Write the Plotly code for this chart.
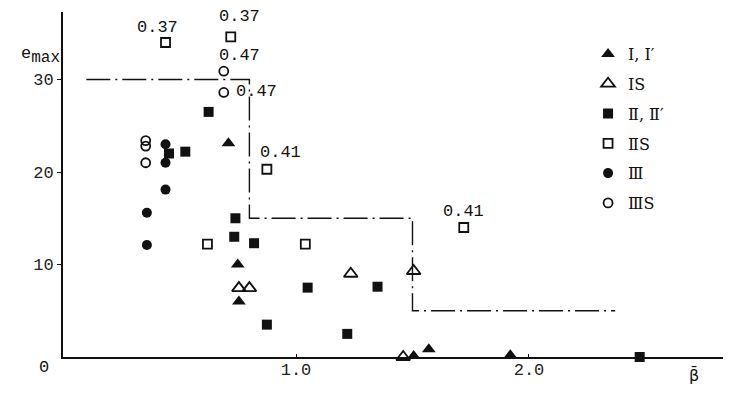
import plotly.graph_objects as go

# ---- data ----
beta_I = [0.71, 0.75, 0.755, 1.505, 1.57, 1.92]
e_I = [23.1, 10.0, 6.0, 0.1, 0.85, 0.2]

beta_IS = [0.755, 0.80, 1.235, 1.505, 1.46]
e_IS = [7.45, 7.45, 9.0, 9.3, 0.0]

beta_II = [0.625, 0.455, 0.525, 0.74, 0.735, 0.82, 0.875, 1.05, 1.35, 1.22, 2.475]
e_II = [26.5, 22.0, 22.2, 15.0, 13.0, 12.3, 3.5, 7.5, 7.6, 2.5, 0.0]

beta_IIS = [0.44, 0.72, 0.875, 0.62, 1.04, 1.72]
e_IIS = [34.0, 34.6, 20.3, 12.2, 12.2, 14.0]

beta_III = [0.44, 0.44, 0.44, 0.36, 0.36]
e_III = [23.0, 21.0, 18.1, 15.6, 12.1]

beta_IIIS = [0.355, 0.355, 0.355, 0.69, 0.69]
e_IIIS = [23.4, 22.8, 21.0, 30.9, 28.6]

bound_beta = [0.10, 0.80, 0.80, 1.50, 1.50, 2.37]
bound_e = [30, 30, 15, 15, 5, 5]

IIS_label_idx = [0, 1, 2, 5]
IIS_labels = ["0.37", "0.37", "0.41", "0.41"]
IIIS_label_idx = [3, 4]
IIIS_labels = ["0.47", "0.47"]

y_ticks = [10, 20, 30]
x_ticks = [1.0, 2.0]
x_ticktext = ["1.0", "2.0"]

names = ["Ⅰ, Ⅰ′", "ⅠS", "Ⅱ, Ⅱ′", "ⅡS", "Ⅲ", "ⅢS"]

MONO = "Liberation Mono, monospace"
LEG = "DejaVu Serif, Liberation Serif, serif"
BLACK = "#111111"

fig = go.Figure()

fig.add_trace(go.Scatter(
    x=bound_beta, y=bound_e, mode="lines", showlegend=False, hoverinfo="skip",
    line=dict(color=BLACK, width=1.4, dash="24px,5px,2px,5px")))

series = [
    (beta_I, e_I, "triangle-up", 12, None),
    (beta_IS, e_IS, "triangle-up-open", 12, 1.8),
    (beta_II, e_II, "square", 10, None),
    (beta_IIS, e_IIS, "square-open", 9, 1.8),
    (beta_III, e_III, "circle", 10, None),
    (beta_IIIS, e_IIIS, "circle-open", 9, 1.8),
]
for i, (bx, ey, sym, sz, lw) in enumerate(series):
    marker = dict(symbol=sym, size=sz, color=BLACK)
    if lw:
        marker["line"] = dict(color=BLACK, width=lw)
    fig.add_trace(go.Scatter(x=bx, y=ey, mode="markers", name=names[i],
                             legendgroup=f"g{i}", marker=marker, cliponaxis=False))

# ratio labels next to points
iis_shift = [(-8, 15), (9, 20), (14, 17), (0, 16)]
for k, idx in enumerate(IIS_label_idx):
    fig.add_annotation(x=beta_IIS[idx], y=e_IIS[idx], text=IIS_labels[k], showarrow=False,
                       xshift=iis_shift[k][0], yshift=iis_shift[k][1],
                       font=dict(family=MONO, size=17, color=BLACK))
iiis_shift = [(16, 16), (33, 1)]
for k, idx in enumerate(IIIS_label_idx):
    fig.add_annotation(x=beta_IIIS[idx], y=e_IIIS[idx], text=IIIS_labels[k], showarrow=False,
                       xshift=iiis_shift[k][0], yshift=iiis_shift[k][1],
                       font=dict(family=MONO, size=17, color=BLACK))

# axis titles
fig.add_annotation(xref="paper", yref="paper", x=-0.001, y=0.875, xanchor="right",
                   yanchor="middle",
                   text="e<sub><span style='font-size:16px'>max</span></sub>",
                   showarrow=False, font=dict(family=MONO, size=17, color=BLACK))
fig.add_annotation(x=0, y=0, xanchor="right", xshift=-12, yshift=-10, text="0",
                   showarrow=False, font=dict(family=MONO, size=17, color=BLACK))
fig.add_annotation(x=2.71, y=0, yshift=-18, text="β̄", showarrow=False,
                   font=dict(family="DejaVu Sans", size=16, color=BLACK))

# the page body adds an 8px offset, so the figure is 8px smaller on each axis
fig.update_layout(
    width=723, height=386,
    margin=dict(l=55, r=0, t=4, b=37, autoexpand=False),
    paper_bgcolor="white", plot_bgcolor="white",
    showlegend=True,
    legend=dict(x=0.786, y=0.9275, xanchor="left", yanchor="top",
                bgcolor="rgba(0,0,0,0)", tracegroupgap=6,
                font=dict(family=LEG, size=16, color=BLACK), itemwidth=30),
    xaxis=dict(range=[0, 2.867], showgrid=False, zeroline=False, showline=True,
               automargin=False,
               linecolor=BLACK, linewidth=2, tickvals=x_ticks, ticktext=x_ticktext,
               ticks="inside", ticklen=3, tickcolor=BLACK, ticklabelstandoff=-4,
               tickfont=dict(family=MONO, size=17, color="#222")),
    yaxis=dict(range=[0, 37.3], showgrid=False, zeroline=False, showline=True,
               automargin=False,
               linecolor=BLACK, linewidth=2, tickvals=y_ticks,
               ticks="outside", ticklen=4, tickcolor=BLACK, ticklabelstandoff=0,
               tickfont=dict(family=MONO, size=17, color="#222")),
)

fig.write_html("out.html")
